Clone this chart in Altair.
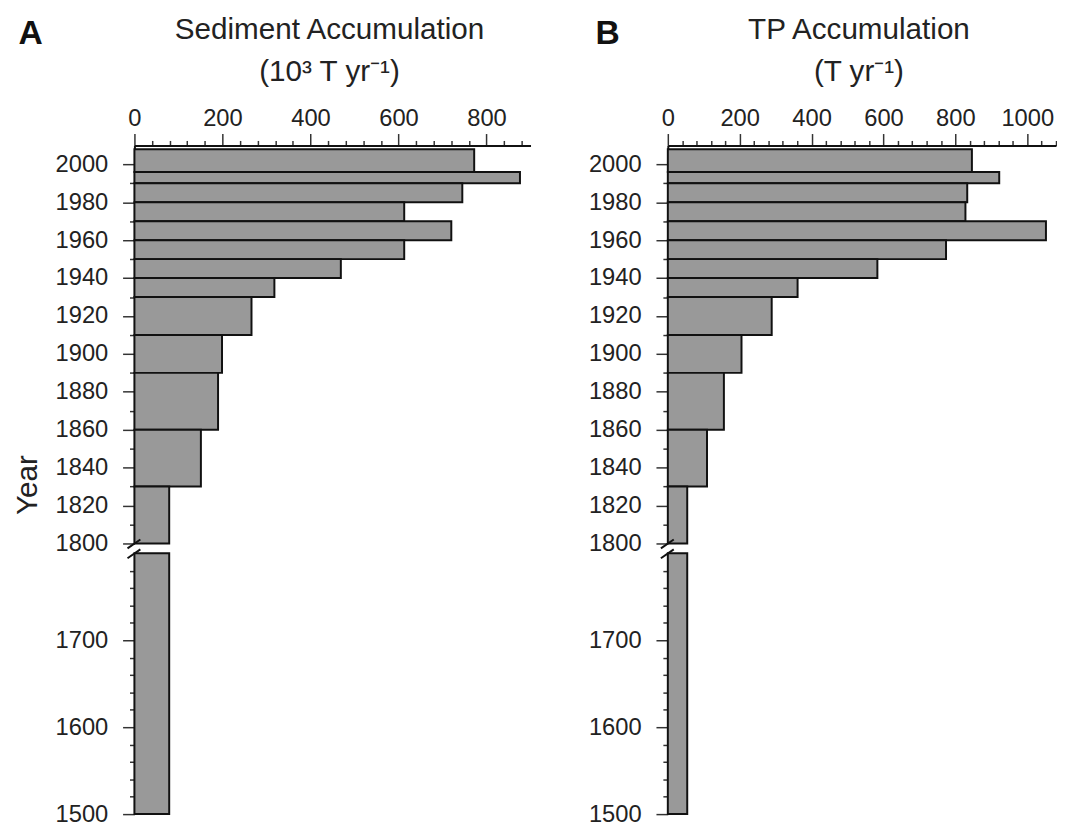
import altair as alt
import pandas as pd

# ---------------- data ----------------
bin_start = [1996, 1990, 1980, 1970, 1960, 1950, 1940, 1930, 1910, 1890, 1860, 1830, 1800]
bin_end = [2008, 1996, 1990, 1980, 1970, 1960, 1950, 1940, 1930, 1910, 1890, 1860, 1830]
sediment = [772, 876, 745, 613, 720, 613, 469, 318, 266, 199, 190, 151, 79]
tp = [846, 922, 833, 828, 1052, 774, 583, 361, 289, 205, 156, 109, 54]

early_start = [1500]
early_end = [1800]
early_sediment = [79]
early_tp = [54]

upper_year_ticks = [1800, 1810, 1820, 1830, 1840, 1850, 1860, 1870, 1880, 1890, 1900,
                    1910, 1920, 1930, 1940, 1950, 1960, 1970, 1980, 1990, 2000]
lower_year_ticks = [1500, 1520, 1540, 1560, 1580, 1600, 1620, 1640, 1660, 1680, 1700,
                    1720, 1740, 1760, 1780]
sed_ticks = [0, 40, 80, 120, 160, 200, 240, 280, 320, 360, 400, 440, 480, 520, 560,
             600, 640, 680, 720, 760, 800, 840, 880]
tp_ticks = [0, 40, 80, 120, 160, 200, 240, 280, 320, 360, 400, 440, 480, 520, 560,
            600, 640, 680, 720, 760, 800, 840, 880, 920, 960, 1000, 1040, 1080]

FONT = "Liberation Sans"
TXT = "#222222"
H_TOP, H_BOT = 403, 264


def major_cond(mod, big, small):
    return {"condition": {"test": f"datum.value % {mod} === 0", "value": big}, "value": small}


def panel(values, early_val, xmax, width, x_ticks, letter, title1, title2, letter_x, with_year):
    top_df = pd.DataFrame({"start": bin_start, "end": bin_end, "value": values})
    bot_df = pd.DataFrame({"start": early_start, "end": early_end, "value": early_val})
    xscale = alt.Scale(domain=[0, xmax], nice=False, zero=False)

    xaxis = alt.Axis(
        orient="top", values=x_ticks, format="d",
        labelExpr="datum.value % 200 === 0 ? datum.label : ''",
        tickSize=major_cond(200, 12, 5), labelPadding=3,
        labelFontSize=24, labelFont=FONT, labelColor=TXT,
        domainColor="#111111", domainWidth=2, tickColor="#333333", tickWidth=1.5,
        labelOverlap=False, labelFlush=False, title=None, grid=False,
    )
    yaxis_top = alt.Axis(
        values=upper_year_ticks, format="d",
        labelExpr="datum.value % 20 === 0 ? datum.label : ''",
        tickSize=major_cond(20, 12, 5), labelPadding=15,
        labelFontSize=24, labelFont=FONT, labelColor=TXT,
        domainColor="#111111", domainWidth=2, tickColor="#333333", tickWidth=1.5,
        labelOverlap=False, labelFlush=False, title=None, grid=False,
    )
    yaxis_bot = alt.Axis(
        values=lower_year_ticks, format="d",
        labelExpr="datum.value % 100 === 0 ? datum.label : ''",
        tickSize=major_cond(100, 12, 5), labelPadding=15,
        labelFontSize=24, labelFont=FONT, labelColor=TXT,
        domainColor="#111111", domainWidth=2, tickColor="#333333", tickWidth=1.5,
        labelOverlap=False, labelFlush=False, title=None, grid=False,
    )

    bars_top = alt.Chart(top_df).mark_rect(
        fill="#999999", stroke="#111111", strokeWidth=2
    ).encode(
        x=alt.X("value:Q", scale=xscale, axis=xaxis),
        x2=alt.datum(0),
        y=alt.Y("start:Q", scale=alt.Scale(domain=[1800, 2010], nice=False, zero=False), axis=yaxis_top),
        y2="end:Q",
    )

    one = pd.DataFrame({"k": [0]})
    brk_top = alt.Chart(one).mark_rule(color="#111111", strokeWidth=2).encode(
        x=alt.value(-7), x2=alt.value(6), y=alt.value(H_TOP + 5), y2=alt.value(H_TOP - 4)
    )
    letter_t = alt.Chart(pd.DataFrame({"t": [letter]})).mark_text(
        font=FONT, fontSize=34, fontWeight="bold", color="#111111", align="center", baseline="alphabetic"
    ).encode(text="t:N", x=alt.value(letter_x), y=alt.value(-103))
    title_t1 = alt.Chart(pd.DataFrame({"t": [title1]})).mark_text(
        font=FONT, fontSize=30, color=TXT, align="center", baseline="alphabetic"
    ).encode(text="t:N", x=alt.value(width / 2 - 3), y=alt.value(-108))
    title_t2 = alt.Chart(pd.DataFrame({"t": [title2]})).mark_text(
        font=FONT, fontSize=30, color=TXT, align="center", baseline="alphabetic"
    ).encode(text="t:N", x=alt.value(width / 2 - 3), y=alt.value(-65))

    layers = [bars_top, brk_top, letter_t, title_t1, title_t2]
    if with_year:
        year_t = alt.Chart(pd.DataFrame({"t": ["Year"]})).mark_text(
            font=FONT, fontSize=30, color=TXT, align="center", baseline="middle", angle=270
        ).encode(text="t:N", x=alt.value(-108), y=alt.value(344))
        layers.append(year_t)

    top = alt.layer(*layers).properties(width=width, height=H_TOP)

    bars_bot = alt.Chart(bot_df).mark_rect(
        fill="#999999", stroke="#111111", strokeWidth=2
    ).encode(
        x=alt.X("value:Q", scale=xscale, axis=None),
        x2=alt.datum(0),
        y=alt.Y("start:Q", scale=alt.Scale(domain=[1500, 1800], nice=False, zero=False), axis=yaxis_bot),
        y2="end:Q",
    )
    brk_bot = alt.Chart(one).mark_rule(color="#111111", strokeWidth=2).encode(
        x=alt.value(-7), x2=alt.value(6), y=alt.value(5), y2=alt.value(-4)
    )
    bottom = alt.layer(bars_bot, brk_bot).properties(width=width, height=H_BOT)

    return alt.vconcat(top, bottom, spacing=10, bounds="flush")


panel_a = panel(sediment, early_sediment, 900, 401, sed_ticks, "A",
                "Sediment Accumulation", "(10³ T yr⁻¹)", -105, True)
panel_b = panel(tp, early_tp, 1080, 393, tp_ticks, "B",
                "TP Accumulation", "(T yr⁻¹)", -61, False)

chart = alt.hconcat(panel_a, panel_b, spacing=58).properties(
    padding={"left": 5, "top": 2, "right": 0, "bottom": 0},
    background="white",
).configure_view(stroke=None)

chart.save("out.html", embed_options={"renderer": "svg", "actions": False})
